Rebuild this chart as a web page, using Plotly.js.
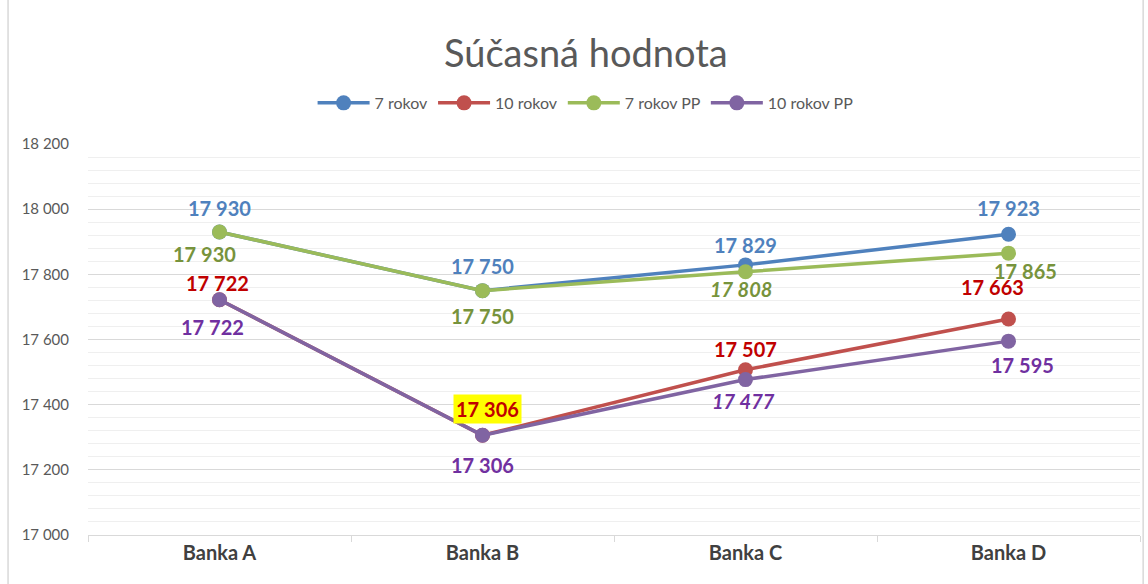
<!DOCTYPE html>
<html><head><meta charset="utf-8">
<script src="https://cdn.plot.ly/plotly-3.0.1.min.js"></script>
<style>html,body{margin:0;padding:0;background:#fff}#c{width:1148px;height:584px}</style>
</head><body><div id="c"></div>
<script>
const categories = ["Banka A", "Banka B", "Banka C", "Banka D"];
const seriesNames = ["7 rokov", "10 rokov", "7 rokov PP", "10 rokov PP"];
const rokov7 = [17930, 17750, 17829, 17923];
const rokov10 = [17722, 17306, 17507, 17663];
const rokov7PP = [17930, 17750, 17808, 17865];
const rokov10PP = [17722, 17306, 17477, 17595];

const values = [rokov7, rokov10, rokov7PP, rokov10PP];
const lineColors = ["#4F81BD", "#C0504D", "#9BBB59", "#8064A2"];
const labelColors = ["#4F81BD", "#C00000", "#77933C", "#7030A0"];
// label placement: above (positive) or below (negative) in px, plus x shift / italic
const labelYShift = [[24,25,20,26],[17,26,21,32],[-22,-25,-17,-18],[-27,-30,-21,-24]];
const labelXShift = [[0,0,0,0],[-2,5,0,-16],[-15,0,-5,17],[-7,0,-2,14]];
const italic = [[0,0,0,0],[0,0,0,0],[0,0,1,0],[0,0,1,0]];

const fmt = v => String(v).replace(/\B(?=(\d{3})+(?!\d))/g, " ");
const FONT = "Lato, 'Open Sans', sans-serif";

const traces = values.map((vals, i) => ({
  type: "scatter", mode: "lines+markers", name: seriesNames[i],
  x: categories, y: vals,
  line: {color: lineColors[i], width: 3.5},
  marker: {color: lineColors[i], size: 15}
}));

const annotations = [];
values.forEach((vals, i) => {
  vals.forEach((v, j) => {
    let t = fmt(v);
    if (italic[i][j]) t = "<i>" + t + "</i>";
    const a = {
      x: categories[j], y: v, xref: "x", yref: "y", text: t, showarrow: false,
      yshift: labelYShift[i][j], xshift: labelXShift[i][j],
      font: {family: FONT, size: 20, color: labelColors[i], weight: 700}
    };
    if (i === 1 && j === 1) { a.bgcolor = "#FFFF00"; a.borderpad = 2; }
    annotations.push(a);
  });
});
annotations.push({
  text: "Súčasná hodnota", xref: "paper", yref: "paper", x: 0.473, y: 1.235,
  xanchor: "center", yanchor: "middle", showarrow: false,
  font: {family: "Lato, 'Open Sans', sans-serif", size: 38, color: "#595959", weight: 400}
});

const layout = {
  width: 1148, height: 584,
  margin: {l: 88, r: 8, t: 144, b: 49},
  paper_bgcolor: "#fff", plot_bgcolor: "#fff",
  separators: ". ",
  showlegend: true,
  legend: {orientation: "h", x: 0.473, xanchor: "center", y: 1.105, yanchor: "middle",
    font: {family: FONT, size: 16, color: "#595959"}, itemwidth: 52,
    tracegroupgap: 0},
  xaxis: {
    type: "category", range: [-0.5, 3.5], tickson: "boundaries",
    showgrid: false, showline: true, linecolor: "#d9d9d9", linewidth: 1,
    ticks: "outside", ticklen: 6, tickcolor: "#d9d9d9",
    tickfont: {family: FONT, size: 20, color: "#404040", weight: 700},
    fixedrange: true
  },
  yaxis: {
    range: [17000, 18200], dtick: 200, tick0: 17000, tickformat: ",d",
    showgrid: true, gridcolor: "#d9d9d9", gridwidth: 1, zeroline: false,
    showline: false, ticks: "", ticklabelstandoff: 18,
    tickfont: {family: FONT, size: 15, color: "#595959"},
    minor: {dtick: 40, showgrid: true, gridcolor: "#efefef", gridwidth: 1},
    fixedrange: true
  },
  annotations: annotations,
  shapes: [
    {type: "line", xref: "paper", yref: "paper", x0: -0.076, x1: -0.076, y0: -0.2, y1: 1.5,
     line: {color: "#d9d9d9", width: 1.5}},
    {type: "line", xref: "paper", yref: "paper", x0: 1.003, x1: 1.003, y0: -0.2, y1: 1.5,
     line: {color: "#d9d9d9", width: 1.5}}
  ]
};

Plotly.newPlot("c", traces, layout, {displayModeBar: false, staticPlot: true});
</script></body></html>
